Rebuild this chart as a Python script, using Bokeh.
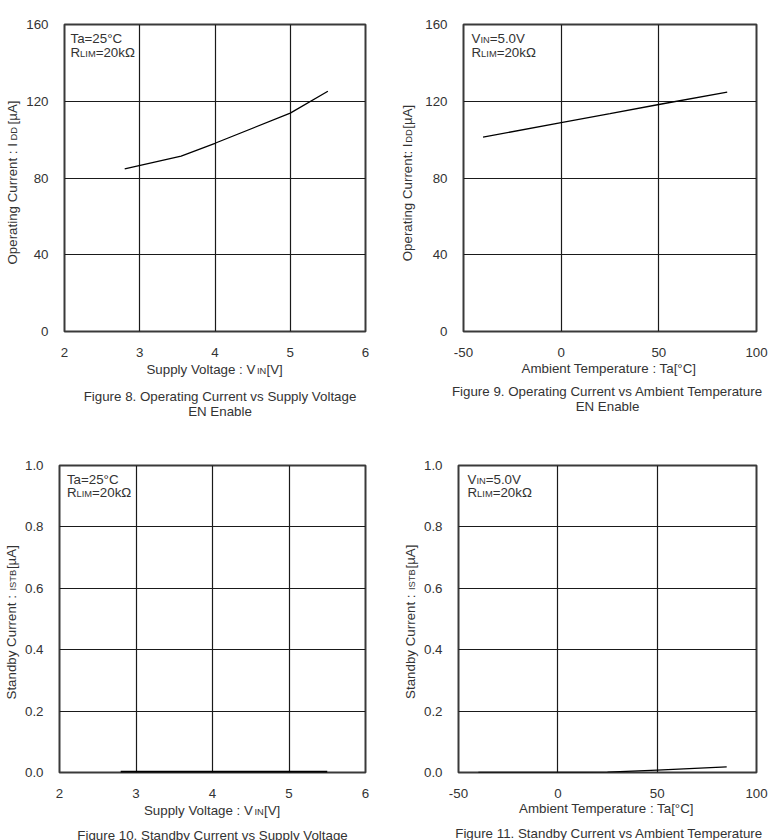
import math
from bokeh.plotting import figure
from bokeh.models import Range1d, FixedTicker, Label
from bokeh.layouts import column, row
from bokeh.embed import file_html
from bokeh.resources import INLINE

# ---------------- data ----------------
vin_fig8 = [2.8, 3.55, 4.0, 5.0, 5.5]
idd_fig8 = [84.8, 91.4, 98.1, 113.8, 125.2]

ta_fig9 = [-40, 0, 25, 50, 85]
idd_fig9 = [101.3, 108.9, 113.5, 118.3, 124.7]

vin_fig10 = [2.8, 3.0, 3.5, 4.0, 4.5, 5.0, 5.5]
istb_fig10 = [0.002, 0.002, 0.002, 0.002, 0.002, 0.002, 0.002]

ta_fig11 = [-40, 0, 25, 50, 85]
istb_fig11 = [0.0, 0.0, 0.001, 0.008, 0.018]

vin_ticks = [2, 3, 4, 5, 6]
vin_tick_labels = ["2", "3", "4", "5", "6"]
ta_ticks = [-50, 0, 50, 100]
ta_tick_labels = ["-50", "0", "50", "100"]
idd_ticks = [0, 40, 80, 120, 160]
idd_tick_labels = ["0", "40", "80", "120", "160"]
istb_ticks = [0.0, 0.2, 0.4, 0.6, 0.8, 1.0]
istb_tick_labels = ["0.0", "0.2", "0.4", "0.6", "0.8", "1.0"]

FONT = "Liberation Sans"
BIG = 13.33
SMALL = 9.33
TXT = "#333333"
NB = "\u00a0"
SUB_SHIFT = 0.3465 * (BIG - SMALL)   # keeps small runs on the big runs' baseline

# Arial / Liberation Sans advance widths (per 1000 em)
W = {' ': 278, NB: 278, '.': 278, ':': 278, '=': 584, '[': 278, ']': 278, '°': 400,
     'µ': 576, 'Ω': 768, '-': 333, 'A': 667, 'B': 667, 'C': 722, 'D': 722, 'E': 667,
     'F': 611, 'I': 278, 'L': 556, 'M': 833, 'N': 722, 'O': 778, 'R': 722, 'S': 667,
     'T': 611, 'V': 667, 'a': 556, 'b': 556, 'c': 500, 'd': 556, 'e': 556, 'g': 556,
     'i': 222, 'k': 500, 'l': 222, 'm': 833, 'n': 556, 'o': 556, 'p': 556, 'r': 333,
     's': 500, 't': 278, 'u': 556, 'v': 500, 'y': 500}


def tw(text, size):
    return sum(W.get(ch, 556) for ch in text) * size / 1000.0


def lab(p, x, y, text, size, dx, dy, align="left", angle=0.0, side=None):
    l = Label(x=x, y=y, x_offset=dx, y_offset=dy, text=text,
              text_font=FONT, text_font_size=f"{size}px", text_color=TXT,
              text_align=align, text_baseline="middle", angle=angle)
    if side is None:
        p.add_layout(l)
    else:
        p.add_layout(l, side)


def inner_runs(p, x, y, runs, dx, dy):
    """left-aligned mixed-size text inside the frame"""
    cur = dx
    for t, s in runs:
        lab(p, x, y, t, s, cur, dy if s == BIG else dy - SUB_SHIFT)
        cur += tw(t, s)


def gap_title_h(p, x, y, big1, n, big2, small, dx, dy, side_main, side_small):
    main = big1 + NB * n + big2
    total = tw(main, BIG)
    start = dx - total / 2.0
    lab(p, x, y, main, BIG, start, dy, side=side_main)
    gap = n * tw(NB, BIG)
    sx = start + tw(big1, BIG) + (gap - tw(small, SMALL)) / 2.0
    lab(p, x, y, small, SMALL, sx, dy - SUB_SHIFT, side=side_small)


def gap_title_v(p, x, y, big1, n, big2, small, dx, dy_center, side_main, side_small):
    main = big1 + NB * n + big2
    total = tw(main, BIG)
    start = dy_center - total / 2.0
    lab(p, x, y, main, BIG, dx, start, angle=math.pi / 2, side=side_main)
    gap = n * tw(NB, BIG)
    sy = start + tw(big1, BIG) + (gap - tw(small, SMALL)) / 2.0
    lab(p, x, y, small, SMALL, dx + SUB_SHIFT, sy, angle=math.pi / 2, side=side_small)


def panel(w, h, bl, br, bt, bb, xr, yr, xt, xl, yt, yl):
    p = figure(width=w, height=h, x_range=Range1d(*xr), y_range=Range1d(*yr),
               output_backend="svg", toolbar_location=None,
               min_border_left=bl, min_border_right=br, min_border_top=bt,
               min_border_bottom=bb, background_fill_color="white",
               border_fill_color="white")
    p.outline_line_color = "#3a3a3a"
    p.outline_line_width = 2
    for ax, ticks, labels in ((p.xaxis, xt, xl), (p.yaxis, yt, yl)):
        ax.ticker = FixedTicker(ticks=ticks)
        ax.major_label_overrides = {t: s for t, s in zip(ticks, labels)}
        ax.major_tick_in = 0
        ax.major_tick_out = 0
        ax.minor_tick_in = 0
        ax.minor_tick_out = 0
        ax.axis_line_color = None
        ax.major_label_text_font = FONT
        ax.major_label_text_font_size = f"{BIG}px"
        ax.major_label_text_color = TXT
    p.xaxis.major_label_standoff = 16
    p.yaxis.major_label_standoff = 16
    p.xgrid.ticker = FixedTicker(ticks=xt)
    p.ygrid.ticker = FixedTicker(ticks=yt)
    for g in (p.xgrid, p.ygrid):
        g.grid_line_color = "#1a1a1a"
        g.grid_line_width = 1.2
    return p


# ---------- Figure 8 ----------
p1 = panel(390, 420, 64, 25, 24, 89, (2, 6), (0, 160), vin_ticks, vin_tick_labels,
           idd_ticks, idd_tick_labels)
p1.line(vin_fig8, idd_fig8, line_color="black", line_width=1.3)
inner_runs(p1, 2, 160, [("Ta=25°C", BIG)], 6, -14)
inner_runs(p1, 2, 160, [("R", BIG), ("LIM", SMALL), ("=20kΩ", BIG)], 6, -28)
gap_title_h(p1, 4, 0, "Supply Voltage : V", 3, "[V]", "IN", 0, -38, "above", "right")
gap_title_v(p1, 2, 80, "Operating Current : I", 5, "[µA]", "DD", -51.7, -4.5, "left", "right")
lab(p1, 4, 0, "Figure 8. Operating Current vs Supply Voltage", BIG, 5, -65, align="center", side="below")
lab(p1, 4, 0, "EN Enable", BIG, 5, -80, align="center", side="below")

# ---------- Figure 9 ----------
p2 = panel(389, 420, 73, 23, 24, 88, (-50, 100), (0, 160), ta_ticks, ta_tick_labels,
           idd_ticks, idd_tick_labels)
p2.line(ta_fig9, idd_fig9, line_color="black", line_width=1.3)
inner_runs(p2, -50, 160, [("V", BIG), ("IN", SMALL), ("=5.0V", BIG)], 8, -14)
inner_runs(p2, -50, 160, [("R", BIG), ("LIM", SMALL), ("=20kΩ", BIG)], 8, -28)
lab(p2, 25, 0, "Ambient Temperature : Ta[°C]", BIG, -1, -37.3, align="center", side="above")
gap_title_v(p2, -50, 80, "Operating Current: I", 4, "[µA]", "DD", -56.3, -5, "left", "right")
lab(p2, 25, 0, "Figure 9. Operating Current vs Ambient Temperature", BIG, -2.5, -59.7, align="center", side="below")
lab(p2, 25, 0, "EN Enable", BIG, -2.5, -75.3, align="center", side="below")

# ---------- Figure 10 ----------
p3 = panel(390, 420, 59, 25, 45, 68, (2, 6), (0, 1.0), vin_ticks, vin_tick_labels,
           istb_ticks, istb_tick_labels)
p3.line(vin_fig10, istb_fig10, line_color="black", line_width=2.5)
inner_runs(p3, 2, 1.0, [("Ta=25°C", BIG)], 7.4, -14)
inner_runs(p3, 2, 1.0, [("R", BIG), ("LIM", SMALL), ("=20kΩ", BIG)], 7.4, -26.7)
gap_title_h(p3, 4, 0, "Supply Voltage : V", 3, "[V]", "IN", 0, -37.7, "above", "right")
gap_title_v(p3, 2, 0.5, "Standby Current : ", 6, "[µA]", "ISTB", -47.6, -3.3, "left", "right")
lab(p3, 4, 0, "Figure 10. Standby Current vs Supply Voltage", BIG, 0, -62.7, align="center", side="below")

# ---------- Figure 11 ----------
p4 = panel(389, 420, 68, 23, 45, 66, (-50, 100), (0, 1.0), ta_ticks, ta_tick_labels,
           istb_ticks, istb_tick_labels)
p4.line(ta_fig11, istb_fig11, line_color="black", line_width=1.3)
inner_runs(p4, -50, 1.0, [("V", BIG), ("IN", SMALL), ("=5.0V", BIG)], 9, -14)
inner_runs(p4, -50, 1.0, [("R", BIG), ("LIM", SMALL), ("=20kΩ", BIG)], 9, -26.7)
lab(p4, 25, 0, "Ambient Temperature : Ta[°C]", BIG, -1, -36.3, align="center", side="above")
gap_title_v(p4, -50, 0.5, "Standby Current : ", 6, "[µA]", "ISTB", -47.6, -2.7, "left", "right")
lab(p4, 25, 0, "Figure 11. Standby Current vs Ambient Temperature", BIG, 1.7, -61.3, align="center", side="below")

layout = column(row(p1, p2), row(p3, p4))
open("out.html", "w").write(file_html(layout, INLINE))
